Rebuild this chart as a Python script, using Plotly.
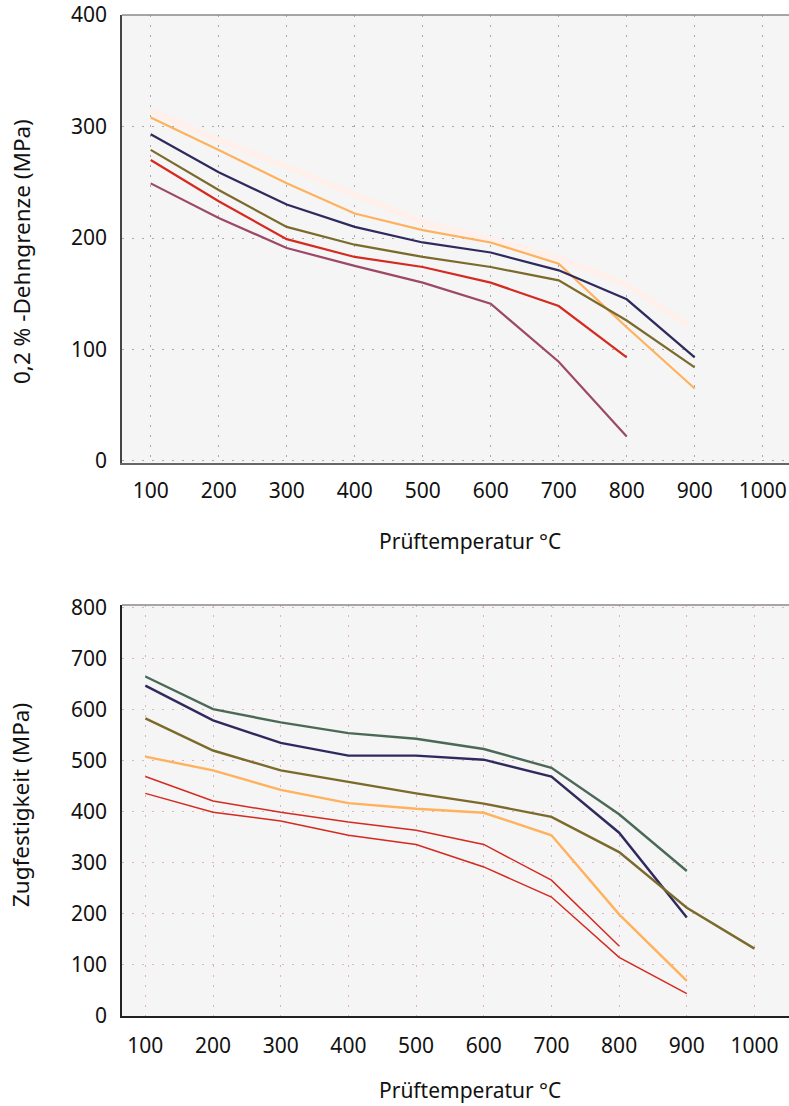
import plotly.graph_objects as go

# ---------------- data ----------------
temps = [100, 200, 300, 400, 500, 600, 700, 800, 900, 1000]
tick_vals = [100, 200, 300, 400, 500, 600, 700, 800, 900, 1000]

# top chart: 0,2 % Dehngrenze (MPa)
top_faint_x = [100, 200, 300, 400, 500, 600, 700, 800, 890]
top_faint = [314, 288, 264, 239, 214, 199, 182, 158, 122]
top_orange = [308, 279, 249, 222, 207, 196, 177, 120, 65]
top_navy = [293, 259, 230, 210, 196, 187, 171, 145, 93]
top_olive = [279, 243, 210, 194, 183, 174, 162, 126, 84]
top_red = [270, 233, 199, 183, 174, 160, 139, 93]
top_mauve = [249, 218, 191, 175, 160, 141, 89, 22]
top_yticks = [0, 100, 200, 300, 400]

# bottom chart: Zugfestigkeit (MPa)
bot_green = [665, 601, 575, 554, 543, 523, 486, 395, 284]
bot_navy = [647, 579, 535, 510, 510, 502, 469, 359, 193]
bot_olive = [583, 520, 481, 458, 436, 416, 390, 321, 212, 132]
bot_orange = [508, 481, 443, 417, 406, 398, 354, 199, 69]
bot_red1 = [469, 421, 399, 380, 364, 336, 266, 137]
bot_red2 = [436, 399, 382, 354, 336, 292, 233, 115, 44]
bot_yticks = [0, 100, 200, 300, 400, 500, 600, 700, 800]

# ---------------- styles ----------------
C_ORANGE = "#FFB15C"
C_NAVY = "#2F2A5E"
C_OLIVE = "#7B6A2B"
C_RED = "#D42A20"
C_MAUVE = "#9C4868"
C_GREEN = "#4B6957"
C_FAINT = "#FFF0EC"

FONT = "Noto Sans"
W, H = 789, 1106
ML, MR, MT, MB = 122, 0, 15, 90
PH = H - MT - MB

def py(pix):
    return (H - MB - pix) / PH

def px(pix):
    return (pix - ML) / (W - ML - MR)

fig = go.Figure()

def add(x, y, color, width, xa, ya, name):
    fig.add_trace(go.Scatter(x=x, y=y, mode="lines", line=dict(color=color, width=width),
                             xaxis=xa, yaxis=ya, name=name, showlegend=False,
                             hoverinfo="x+y"))

# top
add(top_faint_x, top_faint, C_FAINT, 6, "x", "y", "faint")
add(temps[:len(top_orange)], top_orange, C_ORANGE, 2.2, "x", "y", "orange")
add(temps[:len(top_navy)], top_navy, C_NAVY, 2.2, "x", "y", "navy")
add(temps[:len(top_olive)], top_olive, C_OLIVE, 2.2, "x", "y", "olive")
add(temps[:len(top_red)], top_red, C_RED, 2.2, "x", "y", "red")
add(temps[:len(top_mauve)], top_mauve, C_MAUVE, 2.2, "x", "y", "mauve")

# bottom
add(temps[:len(bot_green)], bot_green, C_GREEN, 2.4, "x2", "y2", "green")
add(temps[:len(bot_navy)], bot_navy, C_NAVY, 2.4, "x2", "y2", "navy")
add(temps[:len(bot_olive)], bot_olive, C_OLIVE, 2.4, "x2", "y2", "olive")
add(temps[:len(bot_orange)], bot_orange, C_ORANGE, 2.4, "x2", "y2", "orange")
add(temps[:len(bot_red1)], bot_red1, C_RED, 1.5, "x2", "y2", "red1")
add(temps[:len(bot_red2)], bot_red2, C_RED, 1.5, "x2", "y2", "red2")

tickfont = dict(family=FONT, size=21, color="#111111")
titlefont = dict(family=FONT, size=21, color="#111111")
ytitlefont = dict(family=FONT, size=22.5, color="#111111")
GRID_DASH = "1.5px,8.5px"

top_dom = [py(463), 1.0]
bot_dom = [0.0, py(605)]

fig.update_layout(
    width=W, height=H,
    margin=dict(l=ML, r=MR, t=MT, b=MB, autoexpand=False),
    paper_bgcolor="white",
    plot_bgcolor="#F5F5F5",
    font=dict(family=FONT, size=21, color="#111111"),
    xaxis=dict(domain=[0, 1], range=[57.8, 1038.7], tickvals=tick_vals,
               showgrid=True, gridcolor="#A8A8A8", griddash=GRID_DASH, gridwidth=1.2,
               zeroline=False, showline=True, linecolor="#666666", linewidth=1.5,
               ticks="", ticklabelstandoff=8, tickfont=tickfont, anchor="y"),
    yaxis=dict(domain=top_dom, range=[-1.8, 400], tickvals=top_yticks,
               showgrid=True, gridcolor="#A8A8A8", griddash=GRID_DASH, gridwidth=1.2,
               zeroline=False, showline=True, linecolor="#444444", linewidth=1.5,
               ticks="", ticklabelstandoff=9, tickfont=tickfont, anchor="x"),
    xaxis2=dict(domain=[0, 1], range=[65.5, 1051], tickvals=tick_vals,
                showgrid=True, gridcolor="#DDB3BE", griddash=GRID_DASH, gridwidth=1.2,
                zeroline=False, showline=True, linecolor="#222222", linewidth=1.5,
                ticks="", ticklabelstandoff=10, tickfont=tickfont, anchor="y2"),
    yaxis2=dict(domain=bot_dom, range=[0, 805], tickvals=bot_yticks,
                showgrid=True, gridcolor="#DDB3BE", griddash=GRID_DASH, gridwidth=1.2,
                zeroline=False, showline=True, linecolor="#222222", linewidth=1.5,
                ticks="", ticklabelstandoff=9, tickfont=tickfont, anchor="x2"),
    shapes=[
        dict(type="line", xref="paper", yref="paper", x0=0, x1=1, y0=1, y1=1,
             line=dict(color="#888888", width=1.5)),
        dict(type="line", xref="paper", yref="paper", x0=0, x1=1,
             y0=bot_dom[1], y1=bot_dom[1], line=dict(color="#888888", width=1.5)),
    ],
    annotations=[
        dict(text="Prüftemperatur °C", xref="paper", yref="paper",
             x=px(470), y=py(541), showarrow=False,
             xanchor="center", yanchor="middle", font=titlefont),
        dict(text="Prüftemperatur °C", xref="paper", yref="paper",
             x=px(470), y=py(1090), showarrow=False,
             xanchor="center", yanchor="middle", font=titlefont),
        dict(text="0,2 % -Dehngrenze (MPa)", xref="paper", yref="paper",
             x=px(22), y=py(252), showarrow=False, textangle=-90,
             xanchor="center", yanchor="middle", font=ytitlefont),
        dict(text="Zugfestigkeit (MPa)", xref="paper", yref="paper",
             x=px(20), y=py(805), showarrow=False, textangle=-90,
             xanchor="center", yanchor="middle", font=ytitlefont),
    ],
)

fig.write_html(
    "out.html",
    config={"displayModeBar": False},
    post_script="document.body.style.margin='0';document.body.style.overflow='hidden';",
)
